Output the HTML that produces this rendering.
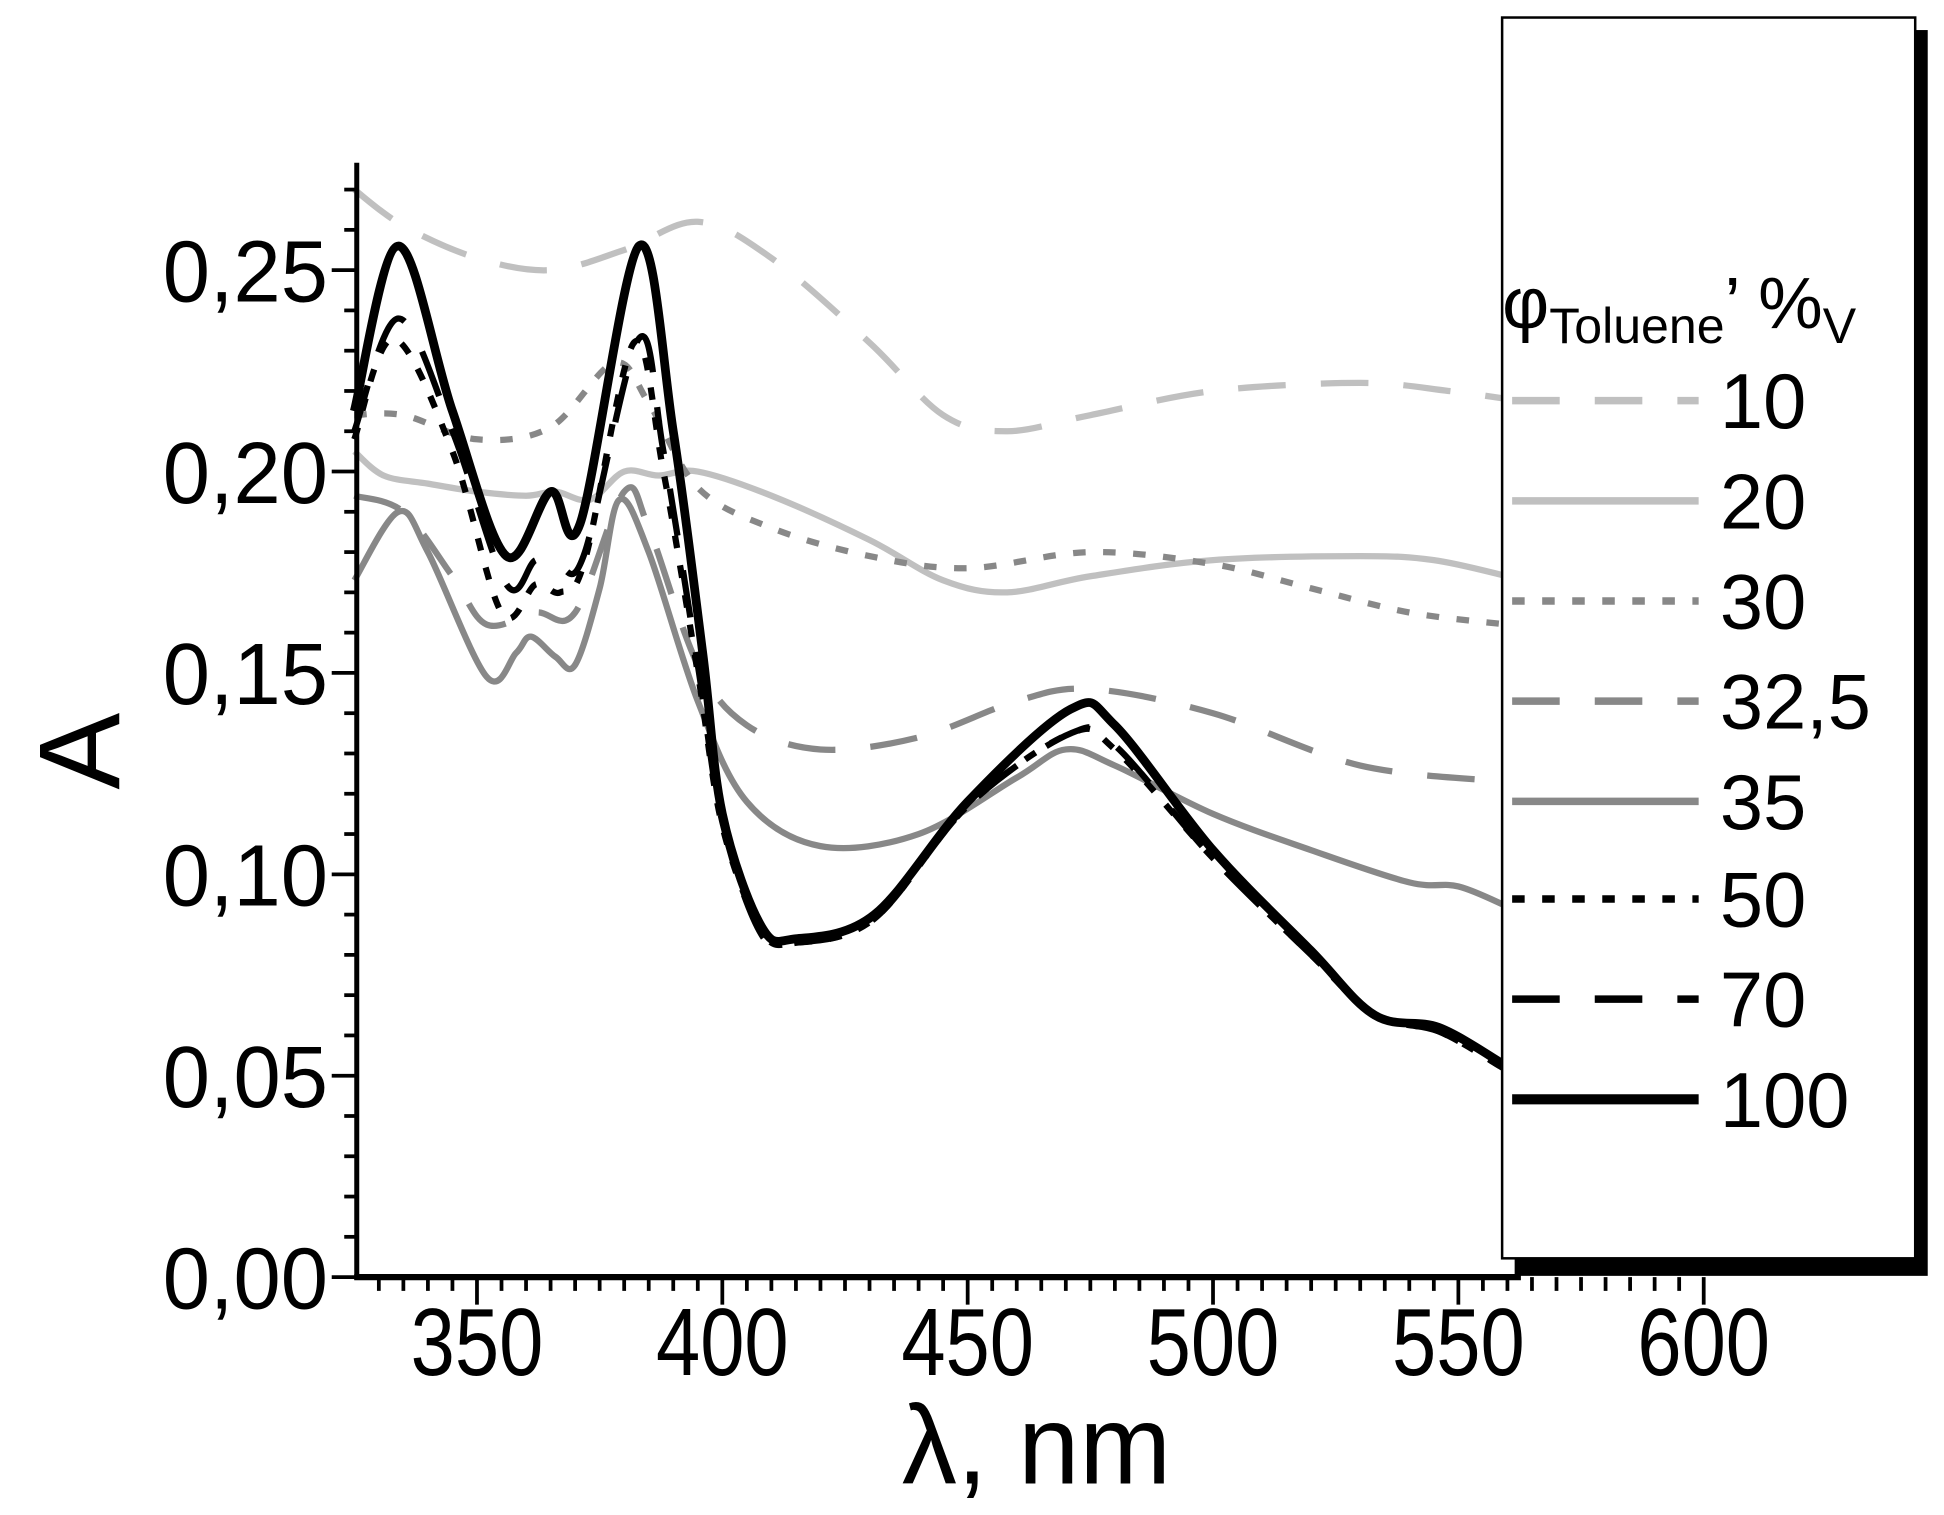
<!DOCTYPE html>
<html><head><meta charset="utf-8"><style>
html,body{margin:0;padding:0;background:#fff;}
svg{display:block;font-family:"Liberation Sans",Arial,sans-serif;}
</style></head><body>
<svg id="chart" width="1944" height="1515" viewBox="0 0 1553 1210" preserveAspectRatio="none" xmlns="http://www.w3.org/2000/svg">
<g id="marks"></g>
<g id="axes"></g>
<g id="legend"></g>
</svg>
<script>
const xTicks = [350, 400, 450, 500, 550, 600];
const yTicks = [0, 0.05, 0.10, 0.15, 0.20, 0.25];
const yTickLabels = ["0,00", "0,05", "0,10", "0,15", "0,20", "0,25"];
const seriesNames = ["10", "20", "30", "32,5", "35", "50", "70", "100"];
const wl10 = [325,335,350,365,380,395,410,430,445,458,475,500,530,548,560];
const a10 = [0.270,0.261,0.253,0.250,0.255,0.262,0.253,0.232,0.214,0.210,0.214,0.220,0.222,0.220,0.218];
const wl20 = [325,331,340,350,360,366,373,380,387,395,410,430,445,458,475,500,530,545,560];
const a20 = [0.205,0.199,0.197,0.195,0.194,0.195,0.193,0.200,0.199,0.200,0.194,0.183,0.173,0.170,0.174,0.178,0.179,0.178,0.174];
const wl30 = [325,335,350,365,378,385,395,410,430,450,475,500,520,540,560];
const a30 = [0.214,0.214,0.208,0.211,0.227,0.217,0.196,0.186,0.179,0.176,0.180,0.177,0.171,0.165,0.162];
const wl325 = [325,335,345,352,362,370,380,385,395,405,420,440,460,475,500,530,560];
const a325 = [0.194,0.190,0.174,0.162,0.165,0.165,0.195,0.186,0.152,0.137,0.131,0.134,0.143,0.146,0.140,0.127,0.123];
const wl35 = [325,334,340,352,358,361,366,370,375,379,385,395,405,420,440,460,470,480,500,520,540,550,560];
const a35 = [0.173,0.190,0.180,0.149,0.155,0.159,0.154,0.152,0.171,0.193,0.180,0.143,0.118,0.107,0.110,0.124,0.131,0.127,0.115,0.106,0.098,0.097,0.092];
const wl50 = [325,333,345,355,362,367,372,382,388,395,400,408,415,431,450,471,480,500,520,533,546,559];
const a50 = [0.208,0.233,0.205,0.165,0.172,0.170,0.178,0.232,0.200,0.150,0.112,0.086,0.083,0.089,0.117,0.135,0.131,0.104,0.080,0.065,0.061,0.052];
const wl70 = [325,334,345,356,362,367,372,383,388,395,400,408,415,431,450,471,480,500,520,533,546,559];
const a70 = [0.210,0.238,0.210,0.172,0.178,0.176,0.180,0.233,0.205,0.152,0.113,0.085,0.083,0.089,0.117,0.135,0.132,0.104,0.080,0.065,0.061,0.052];
const wl100 = [325,334,345,356,365,371,383,390,396,400,408,415,431,450,471,480,500,520,533,546,559];
const a100 = [0.215,0.256,0.215,0.179,0.195,0.187,0.256,0.210,0.155,0.115,0.087,0.084,0.090,0.118,0.141,0.137,0.106,0.081,0.065,0.062,0.053];

const NS = "http://www.w3.org/2000/svg";
const PX0 = 285, PY0 = 1020, PTOP = 130;
function xs(nm){ return PX0 + (nm - 325.5) * 3.92; }
function ys(a){ return PY0 - a * 3217; }
function mk(tag, attrs, parent){ const e = document.createElementNS(NS, tag); for (const k in attrs) e.setAttribute(k, attrs[k]); parent.appendChild(e); return e; }
function pathFor(wl, a){
  const p = wl.map((w,i)=>[xs(w), ys(a[i])]);
  let d = "M" + p[0][0] + "," + p[0][1];
  for (let i=0;i<p.length-1;i++){
    const p0 = p[Math.max(0,i-1)], p1 = p[i], p2 = p[i+1], p3 = p[Math.min(p.length-1,i+2)];
    const c1 = [p1[0]+(p2[0]-p0[0])/6, p1[1]+(p2[1]-p0[1])/6];
    const c2 = [p2[0]-(p3[0]-p1[0])/6, p2[1]-(p3[1]-p1[1])/6];
    d += " C"+c1[0]+","+c1[1]+" "+c2[0]+","+c2[1]+" "+p2[0]+","+p2[1];
  }
  return d;
}
const styles = [
  {c:"#c0c0c0", w:5, dash:"38 28"},
  {c:"#c0c0c0", w:5, dash:""},
  {c:"#888888", w:5, dash:"10 14"},
  {c:"#888888", w:5, dash:"38 28"},
  {c:"#888888", w:5, dash:""},
  {c:"#000000", w:5, dash:"10 14"},
  {c:"#000000", w:5, dash:"38 28"},
  {c:"#000000", w:7, dash:""}
];
const wls = [wl10, wl20, wl30, wl325, wl35, wl50, wl70, wl100];
const as = [a10, a20, a30, a325, a35, a50, a70, a100];
const marks = document.getElementById("marks");
for (let s=0; s<8; s++){
  const el = mk("path", {d: pathFor(wls[s], as[s]), fill:"none", stroke:styles[s].c, "stroke-width":styles[s].w, "stroke-dasharray":styles[s].dash, "stroke-linejoin":"round"}, marks);
  
  
}
const axes = document.getElementById("axes");
let e;
e = mk("line", {x1:PX0, y1:PTOP, x2:PX0, y2:PY0+2, stroke:"#000", "stroke-width":4}, axes);


e = mk("line", {x1:PX0-2, y1:PY0, x2:1215, y2:PY0, stroke:"#000", "stroke-width":5}, axes);


for (let v=0; v<=27; v++){
  const y = ys(v/100), major = v%5===0;
  mk("line", {x1:PX0-(major?20:10), y1:y, x2:PX0, y2:y, stroke:"#000", "stroke-width":3}, axes);
}
for (let nm=330; nm<=600; nm+=5){
  const x = xs(nm), major = nm%50===0;
  mk("line", {x1:x, y1:PY0, x2:x, y2:PY0+(major?22:11), stroke:"#000", "stroke-width":3}, axes);
}
yTicks.forEach((v,i)=>{
  const t = mk("text", {x:262, y:ys(v)+25, "text-anchor":"end", "font-size":70, textLength:132, lengthAdjust:"spacingAndGlyphs"}, axes);
  t.textContent = yTickLabels[i];
  
  
});
xTicks.forEach(v=>{
  const t = mk("text", {x:xs(v), y:1098, "text-anchor":"middle", "font-size":76, textLength:106, lengthAdjust:"spacingAndGlyphs"}, axes);
  t.textContent = String(v);
  
  
});
e = mk("text", {x:0, y:0, "text-anchor":"middle", "font-size":92, transform:"translate(95,600) rotate(-90)"}, axes);
e.textContent = "A";


e = mk("text", {x:828, y:1185, "text-anchor":"middle", "font-size":90, textLength:215, lengthAdjust:"spacingAndGlyphs"}, axes);
e.textContent = "λ, nm";



const lg = document.getElementById("legend");
e = mk("rect", {x:1210, y:24, width:330, height:995, fill:"#000"}, lg);


e = mk("rect", {x:1200, y:14, width:330, height:991, fill:"#fff", stroke:"#000", "stroke-width":2}, lg);


e = mk("text", {x:1200, y:262, "font-size":58}, lg);
e.innerHTML = 'φ<tspan font-size="40" dy="12">Toluene</tspan><tspan dy="-12" font-size="58">’ %</tspan><tspan font-size="40" dy="12">V</tspan>';


const rowY = [320, 400, 480, 560, 640, 718, 798, 878];
for (let s=0; s<8; s++){
  const g = mk("g", {}, lg);
  
  
  mk("line", {x1:1208, y1:rowY[s], x2:1357, y2:rowY[s], stroke:styles[s].c, "stroke-width":styles[s].w+1, "stroke-dasharray":styles[s].dash}, g);
  const t = mk("text", {x:1374, y:rowY[s]+22, "font-size":62}, g);
  t.textContent = seriesNames[s];
}
</script>
</body></html>
